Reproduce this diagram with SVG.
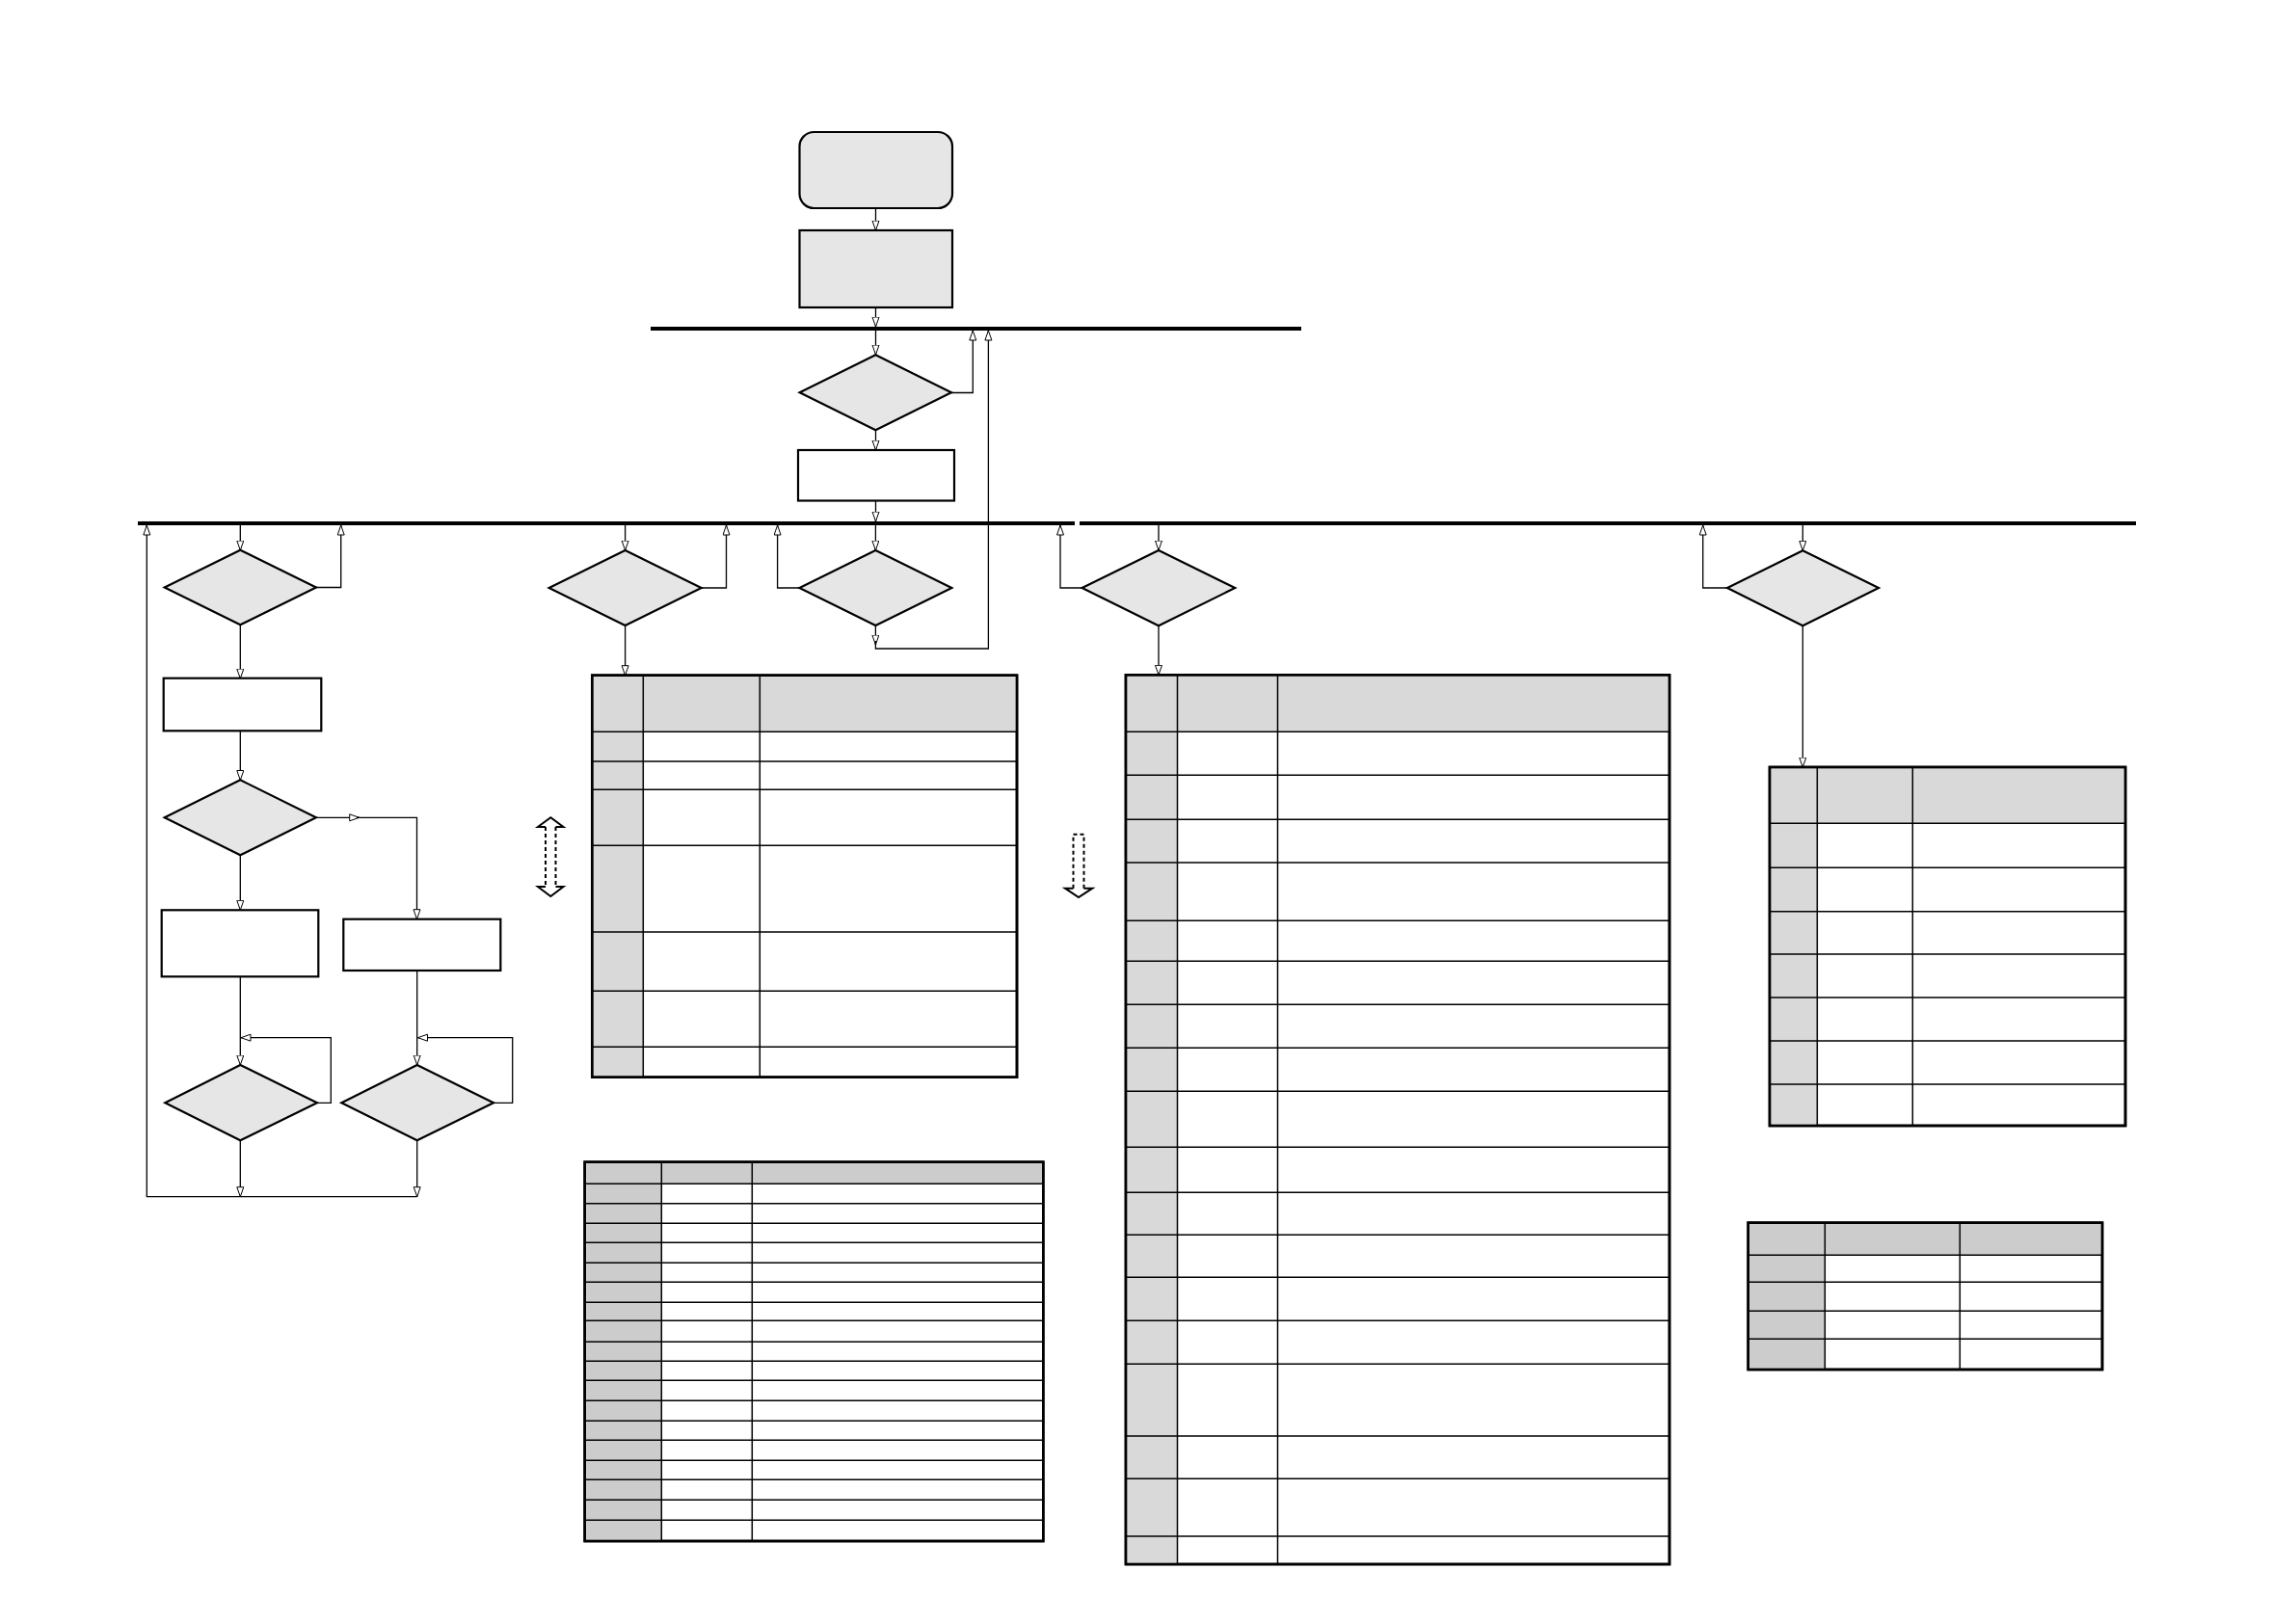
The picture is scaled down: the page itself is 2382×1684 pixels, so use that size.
<svg xmlns="http://www.w3.org/2000/svg" width="2382" height="1684" viewBox="0 0 2382 1684">
<style>
.node{fill:#e6e6e6;stroke:#000;stroke-width:2.2}
.box{fill:#fff;stroke:#000;stroke-width:2.2}
.bar{stroke:#000;stroke-width:4;fill:none}
.con{stroke:#000;stroke-width:1.3;fill:none}
.tbl{fill:#fff;stroke:#000;stroke-width:2.6}
.hd{fill:#d9d9d9;stroke:none}
.hd2{fill:#cccccc;stroke:none}
.grid{stroke:#000;stroke-width:1.5;fill:none}
.dash{stroke:#000;stroke-width:2;fill:none;stroke-dasharray:4 3}
.solid{stroke:#000;stroke-width:2;fill:none}
</style>
<defs>
<marker id="ar" markerUnits="userSpaceOnUse" markerWidth="12" markerHeight="10" refX="10.5" refY="4" orient="auto">
<path d="M0.5,0.5 L10.5,4 L0.5,7.5 Z" fill="#fff" stroke="#000" stroke-width="1"/>
</marker>
</defs>
<rect width="2382" height="1684" fill="#fff"/>

<g id="bars">
<line class="bar" x1="675" y1="341" x2="1350" y2="341"/>
<line class="bar" x1="143" y1="543" x2="1115" y2="543"/>
<line class="bar" x1="1120" y1="543" x2="2216" y2="543"/>
</g>

<g id="connectors">
<line class="con" x1="908.5" y1="216" x2="908.5" y2="239" marker-end="url(#ar)"/>
<line class="con" x1="908.5" y1="319" x2="908.5" y2="339" marker-end="url(#ar)"/>
<line class="con" x1="908.5" y1="343" x2="908.5" y2="368" marker-end="url(#ar)"/>
<path class="con" d="M987,407.5 H1009.3 V343" marker-end="url(#ar)"/>
<line class="con" x1="908.5" y1="446.5" x2="908.5" y2="467" marker-end="url(#ar)"/>
<line class="con" x1="908.5" y1="520" x2="908.5" y2="541" marker-end="url(#ar)"/>
<!-- left column -->
<line class="con" x1="249.3" y1="545" x2="249.3" y2="571" marker-end="url(#ar)"/>
<path class="con" d="M328,609.5 H353.7 V545" marker-end="url(#ar)"/>
<line class="con" x1="249.3" y1="648.5" x2="249.3" y2="704" marker-end="url(#ar)"/>
<line class="con" x1="249.3" y1="758.5" x2="249.3" y2="809.5" marker-end="url(#ar)"/>
<line class="con" x1="328" y1="848.3" x2="372.7" y2="848.3" marker-end="url(#ar)"/>
<path class="con" d="M370,848.3 H432.5 V953.7" marker-end="url(#ar)"/>
<line class="con" x1="249.3" y1="887.5" x2="249.3" y2="944.3" marker-end="url(#ar)"/>
<line class="con" x1="249.3" y1="1013.3" x2="249.3" y2="1105" marker-end="url(#ar)"/>
<path class="con" d="M329,1144.3 H343.3 V1076.7 H250" marker-end="url(#ar)"/>
<line class="con" x1="432.7" y1="1007" x2="432.7" y2="1105" marker-end="url(#ar)"/>
<path class="con" d="M512,1144.3 H531.7 V1076.7 H433.5" marker-end="url(#ar)"/>
<line class="con" x1="249.3" y1="1183.5" x2="249.3" y2="1241.7" marker-end="url(#ar)"/>
<line class="con" x1="432.7" y1="1183.5" x2="432.7" y2="1241.7" marker-end="url(#ar)"/>
<path class="con" d="M432.7,1241.7 H152.3 V545" stroke="#666" marker-end="url(#ar)"/>
<!-- middle -->
<line class="con" x1="648.6" y1="545" x2="648.6" y2="571" marker-end="url(#ar)"/>
<path class="con" d="M727.6,610 H753.5 V545" marker-end="url(#ar)"/>
<line class="con" x1="648.6" y1="649" x2="648.6" y2="700.7" marker-end="url(#ar)"/>
<line class="con" x1="908.4" y1="545" x2="908.4" y2="571" marker-end="url(#ar)"/>
<path class="con" d="M829.4,610 H806.6 V545" marker-end="url(#ar)"/>
<line class="con" x1="908.4" y1="649" x2="908.4" y2="669" marker-end="url(#ar)"/>
<path class="con" d="M908.4,665 V673 H1025.4 V343" marker-end="url(#ar)"/>
<!-- right -->
<line class="con" x1="1202" y1="545" x2="1202" y2="571" marker-end="url(#ar)"/>
<path class="con" d="M1122.6,610 H1100 V545" marker-end="url(#ar)"/>
<line class="con" x1="1202" y1="649.3" x2="1202" y2="700.3" marker-end="url(#ar)"/>
<line class="con" x1="1870.3" y1="545" x2="1870.3" y2="571.3" marker-end="url(#ar)"/>
<path class="con" d="M1792,610 H1766.7 V545" marker-end="url(#ar)"/>
<line class="con" x1="1870.3" y1="649.3" x2="1870.3" y2="796" marker-end="url(#ar)"/>
</g>

<g id="start"><rect class="node" x="829.5" y="137" width="158.5" height="79" rx="15"/></g>
<g id="init"><rect class="node" x="829.5" y="239" width="158.5" height="80"/></g>
<g id="dec1"><polygon class="node" points="908.4,368.3 987,407.3 908.4,446.3 829.6,407.3"/></g>
<g id="proc1"><rect class="box" x="828" y="467" width="162" height="52.5"/></g>

<g id="decA"><polygon class="node" points="249.3,570.7 328,609.5 249.3,648.3 170.7,609.5"/></g>
<g id="boxA"><rect class="box" x="169.7" y="703.7" width="163.6" height="54.6"/></g>
<g id="decB"><polygon class="node" points="249.3,809.3 328,848.3 249.3,887.3 170.7,848.3"/></g>
<g id="boxC"><rect class="box" x="167.7" y="944.3" width="162.6" height="69"/></g>
<g id="boxD"><rect class="box" x="356.3" y="953.7" width="163" height="53.3"/></g>
<g id="decC"><polygon class="node" points="249.3,1105 329,1144.3 249.3,1183.3 171.3,1144.3"/></g>
<g id="decD"><polygon class="node" points="432.7,1105 512,1144.3 432.7,1183.3 354.3,1144.3"/></g>

<g id="decE"><polygon class="node" points="648.6,571 727.6,610 648.6,649 569.6,610"/></g>
<g id="decF"><polygon class="node" points="908.4,571 987.4,610 908.4,649 829.4,610"/></g>
<g id="decG"><polygon class="node" points="1202,571 1281.3,610 1202,649.3 1122.6,610"/></g>
<g id="decH"><polygon class="node" points="1870.3,571.3 1949,610 1870.3,649.3 1792,610"/></g>

<g id="dashArrow1">
<path class="dash" d="M566,858 V920 M576.5,858 V920"/>
<path class="solid" d="M566,858 H558 L571.3,848.3 L584.5,858 H576.5"/>
<path class="solid" d="M566,920 H558 L571.3,930 L584.5,920 H576.5"/>
</g>
<g id="dashArrow2">
<path class="dash" d="M1113.5,921.7 V865.7 H1124.5 V921.7"/>
<path class="solid" d="M1113.5,921.7 H1105 L1119,931 L1133.3,921.7 H1124.5"/>
</g>

<g id="table2">
<rect class="tbl" x="614.3" y="700.7" width="440.7" height="417"/>
<rect class="hd" x="615.6" y="702" width="438" height="57.3"/>
<rect class="hd" x="615.6" y="759.3" width="51.7" height="357"/>
<path class="grid" d="M667.3,700.7 V1117.7 M788.3,700.7 V1117.7 M614.3,759.3 H1055 M614.3,790 H1055 M614.3,819.3 H1055 M614.3,877.3 H1055 M614.3,967 H1055 M614.3,1028.3 H1055 M614.3,1086.3 H1055"/>
<rect x="614.3" y="700.7" width="440.7" height="417" fill="none" stroke="#000" stroke-width="2.6"/>
</g>

<g id="table3">
<rect class="tbl" x="1168" y="700.3" width="564" height="922.7"/>
<rect class="hd" x="1169.3" y="701.6" width="561.4" height="57.7"/>
<rect class="hd" x="1169.3" y="759.3" width="52.2" height="862.4"/>
<path class="grid" d="M1221.5,700.3 V1623 M1325.5,700.3 V1623 M1168,759.3 H1732 M1168,804.3 H1732 M1168,850.3 H1732 M1168,895 H1732 M1168,955.3 H1732 M1168,997.3 H1732 M1168,1042.3 H1732 M1168,1087.3 H1732 M1168,1132.3 H1732 M1168,1190.3 H1732 M1168,1237.3 H1732 M1168,1281.3 H1732 M1168,1325.3 H1732 M1168,1370.3 H1732 M1168,1415.3 H1732 M1168,1490 H1732 M1168,1534.3 H1732 M1168,1594 H1732"/>
<rect x="1168" y="700.3" width="564" height="922.7" fill="none" stroke="#000" stroke-width="2.6"/>
</g>

<g id="table4">
<rect class="tbl" x="1836" y="796" width="369" height="372"/>
<rect class="hd" x="1837.3" y="797.3" width="366.4" height="57"/>
<rect class="hd" x="1837.3" y="854.3" width="48" height="312.4"/>
<path class="grid" d="M1885.3,796 V1168 M1984.3,796 V1168 M1836,854.3 H2205 M1836,900.3 H2205 M1836,945.7 H2205 M1836,990 H2205 M1836,1035 H2205 M1836,1080 H2205 M1836,1125 H2205"/>
<rect x="1836" y="796" width="369" height="372" fill="none" stroke="#000" stroke-width="2.6"/>
</g>

<g id="table5">
<rect class="tbl" x="606.7" y="1205.7" width="475.6" height="393.3"/>
<rect class="hd2" x="608" y="1207" width="473" height="21.3"/>
<rect class="hd2" x="608" y="1228.3" width="78.3" height="369.4"/>
<path class="grid" d="M686.3,1205.7 V1599 M780.3,1205.7 V1599 M606.7,1228.3 H1082.3 M606.7,1248.7 H1082.3 M606.7,1269.3 H1082.3 M606.7,1289.3 H1082.3 M606.7,1310.3 H1082.3 M606.7,1330.3 H1082.3 M606.7,1351.3 H1082.3 M606.7,1370.3 H1082.3 M606.7,1392.3 H1082.3 M606.7,1412.3 H1082.3 M606.7,1432.3 H1082.3 M606.7,1453.3 H1082.3 M606.7,1474.3 H1082.3 M606.7,1494.3 H1082.3 M606.7,1515.3 H1082.3 M606.7,1535.3 H1082.3 M606.7,1556.3 H1082.3 M606.7,1577.3 H1082.3"/>
<rect x="606.7" y="1205.7" width="475.6" height="393.3" fill="none" stroke="#000" stroke-width="2.6"/>
</g>

<g id="table6">
<rect class="tbl" x="1813.7" y="1268.7" width="367.3" height="152.3"/>
<rect class="hd2" x="1815" y="1270" width="364.7" height="32.3"/>
<rect class="hd2" x="1815" y="1302.3" width="78.3" height="117.4"/>
<path class="grid" d="M1893.3,1268.7 V1421 M2033.3,1268.7 V1421 M1813.7,1302.3 H2181 M1813.7,1330.3 H2181 M1813.7,1360.3 H2181 M1813.7,1389.3 H2181"/>
<rect x="1813.7" y="1268.7" width="367.3" height="152.3" fill="none" stroke="#000" stroke-width="2.6"/>
</g>
</svg>
